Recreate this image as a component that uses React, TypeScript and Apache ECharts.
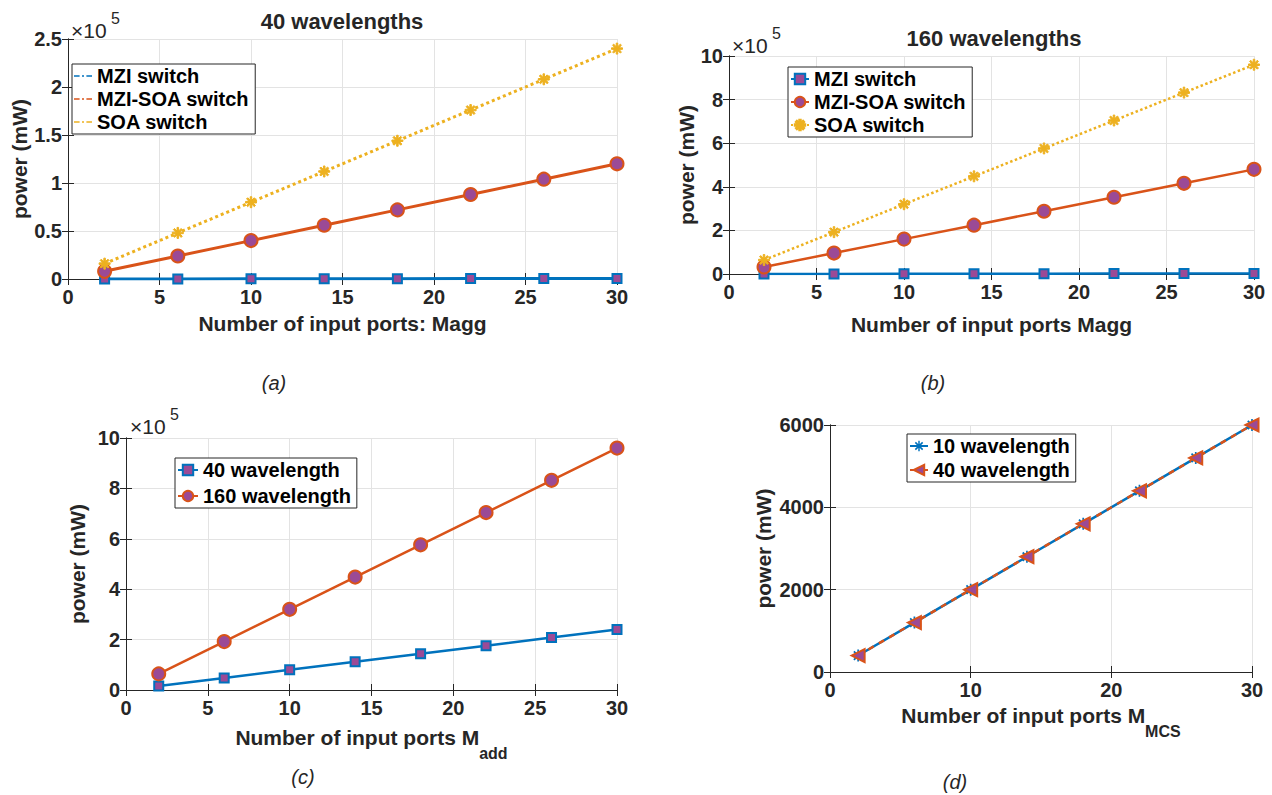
import React, { useEffect, useRef } from "react";
import * as echarts from "echarts";

// ---------------- data ----------------
const ports = [2, 6, 10, 14, 18, 22, 26, 30];
// (a) 40 wavelengths, power in mW
const aMzi = [40, 120, 200, 280, 360, 440, 520, 600];
const aMziSoa = [8000, 24000, 40000, 56000, 72000, 88000, 104000, 120000];
const aSoa = [16000, 48000, 80000, 112000, 144000, 176000, 208000, 240000];
// (b) 160 wavelengths
const bMzi = [160, 480, 800, 1120, 1440, 1760, 2080, 2400];
const bMziSoa = [32000, 96000, 160000, 224000, 288000, 352000, 416000, 480000];
const bSoa = [64000, 192000, 320000, 448000, 576000, 704000, 832000, 960000];
// (c) add ports
const c40 = [16000, 48000, 80000, 112000, 144000, 176000, 208000, 240000];
const c160 = [64000, 192000, 320000, 448000, 576000, 704000, 832000, 960000];
// (d) MCS ports
const d10 = [400, 1200, 2000, 2800, 3600, 4400, 5200, 6000];
const d40 = [400, 1200, 2000, 2800, 3600, 4400, 5200, 6000];

const titles = ["40 wavelengths", "160 wavelengths"];
const captions = ["(a)", "(b)", "(c)", "(d)"];

// ---------------- style ----------------
const FONT = "'Liberation Sans', Arial, Helvetica, sans-serif";
const TXT = "#262626";
const BLUE = "#0072BD";
const ORANGE = "#D95319";
const YELLOW = "#EDB120";
const PURPLE = "#9B4A96";
const ASTERISK =
  "path://M-1.4,-10h2.8v20h-2.8zM-10,-1.4h20v2.8h-20zM-8.1,6L6,-8.1L8.1,-6L-6,8.1zM-6,-8.1L8.1,6L6,8.1L-8.1,-6z";
const TRI_LEFT = "path://M0,5L10,0L10,10z";
const DASHDOT = "path://M0,0h7v2h-7zM10,0h2.5v2h-2.5zM15.5,0h7v2h-7z";

const pts = (ys: number[]) => ports.map((x, i) => [x, ys[i]]);

const grids = [
  { left: 68, top: 39, width: 549, height: 240 },
  { left: 729, top: 56, width: 525, height: 218 },
  { left: 126, top: 438, width: 491, height: 252 },
  { left: 830, top: 425, width: 422, height: 247 },
];

const tickLabel = { color: TXT, fontFamily: FONT, fontWeight: "bold", fontSize: 20 };

function buildAxes() {
  const cfg = [
    { xi: 5, ymax: 250000, yi: 50000, sci: true, xname: "Number of input ports: Magg", xgap: 34, ygap: 36 },
    { xi: 5, ymax: 1000000, yi: 200000, sci: true, xname: "Number of input ports Magg", xgap: 40, ygap: 32 },
    { xi: 5, ymax: 1000000, yi: 200000, sci: true, xname: "{m|Number of input ports M}{s|add}", xgap: 37, ygap: 38 },
    { xi: 10, ymax: 6000, yi: 2000, sci: false, xname: "{m|Number of input ports M}{s|MCS}", xgap: 33, ygap: 56 },
  ];
  const xAxis: any[] = [];
  const yAxis: any[] = [];
  cfg.forEach((c, g) => {
    const rich = {
      m: { fontSize: 21, fontWeight: "bold", color: TXT, fontFamily: FONT, lineHeight: 34, verticalAlign: "top" },
      s: { fontSize: 16, fontWeight: "bold", color: TXT, fontFamily: FONT, lineHeight: 15, verticalAlign: "bottom" },
    };
    xAxis.push({
      type: "value",
      gridIndex: g,
      min: 0,
      max: 30,
      interval: c.xi,
      position: "bottom",
      name: c.xname,
      nameLocation: "middle",
      nameGap: c.xgap,
      nameTextStyle: { ...tickLabel, fontSize: 21, rich },
      axisLine: { show: true, lineStyle: { color: TXT, width: 1 } },
      axisTick: { show: true, inside: true, length: 6, lineStyle: { color: TXT } },
      axisLabel: { ...tickLabel, margin: 8 },
      splitLine: { show: true, lineStyle: { color: "#e3e3e3", width: 1 } },
    });
    xAxis.push({
      type: "value",
      gridIndex: g,
      min: 0,
      max: 30,
      interval: c.xi,
      position: "top",
      axisLine: { show: true, lineStyle: { color: TXT, width: 1 } },
      axisTick: { show: true, inside: true, length: 6, lineStyle: { color: TXT } },
      axisLabel: { show: false },
      splitLine: { show: false },
    });
    yAxis.push({
      type: "value",
      gridIndex: g,
      min: 0,
      max: c.ymax,
      interval: c.yi,
      position: "left",
      name: "power (mW)",
      nameLocation: "middle",
      nameGap: c.ygap,
      nameTextStyle: { ...tickLabel, fontSize: 21 },
      axisLine: { show: true, lineStyle: { color: TXT, width: 1 } },
      axisTick: { show: true, inside: true, length: 6, lineStyle: { color: TXT } },
      axisLabel: {
        ...tickLabel,
        margin: 6,
        formatter: (v: number) => (c.sci ? String(Math.round((v / 1e5) * 100) / 100) : String(v)),
      },
      splitLine: { show: true, lineStyle: { color: "#e3e3e3", width: 1 } },
    });
    yAxis.push({
      type: "value",
      gridIndex: g,
      min: 0,
      max: c.ymax,
      interval: c.yi,
      position: "right",
      axisLine: { show: true, lineStyle: { color: TXT, width: 1 } },
      axisTick: { show: true, inside: true, length: 6, lineStyle: { color: TXT } },
      axisLabel: { show: false },
      splitLine: { show: false },
    });
  });
  return { xAxis, yAxis };
}

function line(name: string, g: number, data: number[], o: any) {
  return {
    type: "line",
    name,
    xAxisIndex: g * 2,
    yAxisIndex: g * 2,
    data: pts(data),
    showSymbol: true,
    showAllSymbol: true,
    ...o,
  };
}

const legendText = { color: "#000", fontFamily: FONT, fontWeight: "bold", fontSize: 20 };
const strip = (n: string) => n.slice(2);

function legend(names: any[], left: number, top: number, gap: number, itemWidth = 18) {
  return {
    data: names,
    orient: "vertical",
    left,
    top,
    itemGap: gap,
    itemWidth,
    itemHeight: 13,
    padding: [2, 6, 2, 2],
    backgroundColor: "#fff",
    borderColor: TXT,
    borderWidth: 1,
    borderRadius: 0,
    textStyle: legendText,
    formatter: strip,
    selectedMode: false,
  };
}

export default function App() {
  const ref = useRef<HTMLDivElement>(null);
  useEffect(() => {
    if (!ref.current) return;
    const chart = echarts.init(ref.current, undefined, { renderer: "svg" });
    const { xAxis, yAxis } = buildAxes();
    const sq = (c: string) => ({
      symbol: "rect",
      symbolSize: 9,
      itemStyle: { color: PURPLE, borderColor: c, borderWidth: 2 },
    });
    const circ = (c: string) => ({
      symbol: "circle",
      symbolSize: 13,
      itemStyle: { color: PURPLE, borderColor: c, borderWidth: 2 },
    });
    const series: any[] = [
      // (a)
      line("a:MZI switch", 0, aMzi, { ...sq(BLUE), lineStyle: { color: BLUE, width: 3 } }),
      line("a:MZI-SOA switch", 0, aMziSoa, { ...circ(ORANGE), lineStyle: { color: ORANGE, width: 3 } }),
      line("a:SOA switch", 0, aSoa, {
        symbol: ASTERISK,
        symbolSize: 11,
        itemStyle: { color: YELLOW, borderColor: YELLOW, borderWidth: 1 },
        lineStyle: { color: YELLOW, width: 3, type: "dotted" },
      }),
      // (b)
      line("b:MZI switch", 1, bMzi, { ...sq(BLUE), lineStyle: { color: BLUE, width: 2.5 } }),
      line("b:MZI-SOA switch", 1, bMziSoa, { ...circ(ORANGE), lineStyle: { color: ORANGE, width: 2.5 } }),
      line("b:SOA switch", 1, bSoa, {
        symbol: ASTERISK,
        symbolSize: 11,
        itemStyle: { color: YELLOW, borderColor: YELLOW, borderWidth: 1 },
        lineStyle: { color: YELLOW, width: 2.5, type: "dotted" },
      }),
      // (c)
      line("c:40 wavelength", 2, c40, { ...sq(BLUE), lineStyle: { color: BLUE, width: 2.5 } }),
      line("c:160 wavelength", 2, c160, { ...circ(ORANGE), lineStyle: { color: ORANGE, width: 2.5 } }),
      // (d)
      line("d:10 wavelength", 3, d10, {
        symbol: ASTERISK,
        symbolSize: 12,
        itemStyle: { color: BLUE, borderColor: BLUE, borderWidth: 0 },
        lineStyle: { color: BLUE, width: 2.5 },
      }),
      line("d:40 wavelength", 3, d40, {
        symbol: TRI_LEFT,
        symbolSize: 13,
        itemStyle: { color: PURPLE, borderColor: ORANGE, borderWidth: 2 },
        lineStyle: { color: ORANGE, width: 2.5, type: [6, 6] },
      }),
    ];

    const gText = (text: string, x: number, y: number, o: any = {}) => ({
      type: "text",
      x,
      y,
      style: {
        text,
        fill: TXT,
        font: `bold 22px ${FONT}`,
        textAlign: "center",
        textVerticalAlign: "middle",
        ...o,
      },
    });
    const sciMark = (x: number, y: number) => [
      gText("×10", x, y, { font: `21px ${FONT}`, textAlign: "left" }),
      gText("5", x + 40, y - 12, { font: `16px ${FONT}`, textAlign: "left" }),
    ];

    chart.setOption({
      animation: false,
      backgroundColor: "#fff",
      grid: grids.map((g) => ({ ...g, containLabel: false })),
      xAxis,
      yAxis,
      series,
      legend: [
        legend(
          [
            { name: "a:MZI switch", icon: DASHDOT, itemStyle: { color: BLUE, borderWidth: 0 } },
            { name: "a:MZI-SOA switch", icon: DASHDOT, itemStyle: { color: ORANGE, borderWidth: 0 } },
            { name: "a:SOA switch", icon: DASHDOT, itemStyle: { color: YELLOW, borderWidth: 0 } },
          ],
          72,
          64,
          3,
          18
        ),
        legend(["b:MZI switch", "b:MZI-SOA switch", "b:SOA switch"], 788, 67, 3, 18),
        legend(["c:40 wavelength", "c:160 wavelength"], 175, 458, 6, 20),
        legend(["d:10 wavelength", "d:40 wavelength"], 907, 434, 4, 18),
      ],
      graphic: [
        gText(titles[0], 342, 21),
        gText(titles[1], 994, 38),
        ...sciMark(71, 30),
        ...sciMark(732, 45),
        ...sciMark(130, 426),
        gText(captions[0], 274, 383, { font: `italic 20px ${FONT}` }),
        gText(captions[1], 933, 383, { font: `italic 20px ${FONT}` }),
        gText(captions[2], 303, 777, { font: `italic 20px ${FONT}` }),
        gText(captions[3], 955, 782, { font: `italic 20px ${FONT}` }),
      ],
    });
    return () => chart.dispose();
  }, []);
  return (
    <div
      ref={ref}
      style={{ position: "fixed", left: 0, top: 0, width: 1272, height: 795, background: "#fff" }}
    />
  );
}
